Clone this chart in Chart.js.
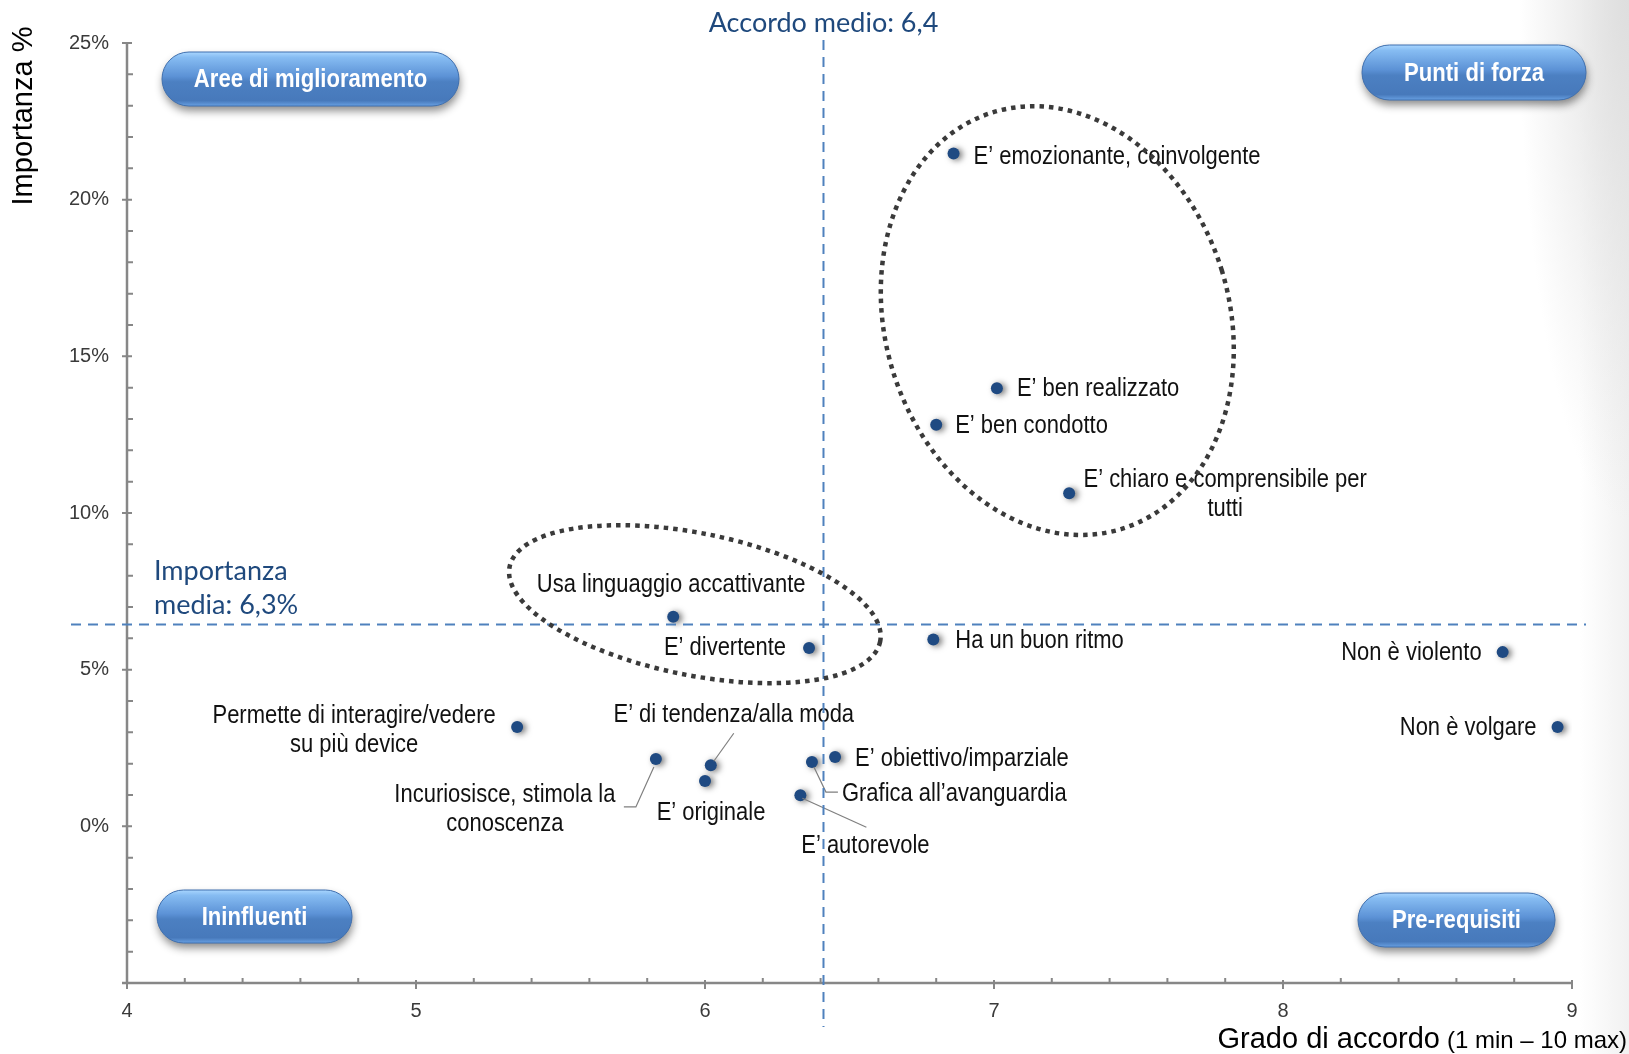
<!DOCTYPE html>
<html lang="it">
<head>
<meta charset="utf-8">
<title>Importanza vs grado di accordo</title>
<script src="https://cdn.jsdelivr.net/npm/chart.js@4.4.1/dist/chart.umd.min.js"></script>
<style>
    html, body { margin: 0; padding: 0; }
    body {
        width: 1629px;
        height: 1054px;
        overflow: hidden;
        background:
            radial-gradient(ellipse 110px 520px at 100% 0%, #dedede 0%, rgba(255,255,255,0) 100%),
            linear-gradient(to right, #ffffff 0%, #ffffff 97%, #f1f1f1 100%);
    }
    #wrap { position: relative; width: 1629px; height: 1054px; }
</style>
</head>
<body>
<div id="wrap"><canvas id="mappa" width="1629" height="1054"></canvas></div>
<script>
// dati
const attributi = [
    "E’ emozionante, coinvolgente",
    "E’ ben realizzato",
    "E’ ben condotto",
    "E’ chiaro e comprensibile per\ntutti",
    "Usa linguaggio accattivante",
    "E’ divertente",
    "Ha un buon ritmo",
    "Non è violento",
    "Non è volgare",
    "Permette di interagire/vedere\nsu più device",
    "Incuriosisce, stimola la\nconoscenza",
    "E’ di tendenza/alla moda",
    "E’ originale",
    "E’ obiettivo/imparziale",
    "Grafica all’avanguardia",
    "E’ autorevole",
];
const grado_accordo = [6.86, 7.01, 6.80, 7.26, 5.89, 6.36, 6.79, 8.76, 8.95, 5.35, 5.83, 6.02, 6.00, 6.45, 6.37, 6.33];
const importanza = [21.47, 13.98, 12.82, 10.63, 6.69, 5.69, 5.96, 5.56, 3.17, 3.17, 2.15, 1.95, 1.45, 2.21, 2.05, 0.99];

const tick_x = [4, 5, 6, 7, 8, 9];
const tick_y = [0, 5, 10, 15, 20, 25];

const media_accordo = 6.41;
const media_importanza = 6.44;
const testo_media_accordo = "Accordo medio: 6,4";
const testo_media_importanza = ["Importanza", "media: 6,3%"];
const quadranti = ["Aree di miglioramento", "Punti di forza", "Ininfluenti", "Pre-requisiti"];

// stile: posizione etichette rispetto al punto (px)
const posizione_etichette = [
    { dx: 20, dy: 3, align: "left" },
    { dx: 20, dy: 1, align: "left" },
    { dx: 19, dy: 1, align: "left" },
    { dx: 156, dy: -13, align: "center" },
    { dx: -2, dy: -32, align: "center" },
    { dx: -23, dy: 0, align: "right" },
    { dx: 22, dy: 1, align: "left" },
    { dx: -21, dy: 1, align: "right" },
    { dx: -21, dy: 1, align: "right" },
    { dx: -163, dy: -11, align: "center" },
    { dx: -151, dy: 36, align: "center", leader: [[-32, 48], [-20, 48], [-2, 8]] },
    { dx: 23, dy: -50, align: "center", leader: [[23, -32], [3, -4]] },
    { dx: 6, dy: 32, align: "center" },
    { dx: 20, dy: 2, align: "left" },
    { dx: 30, dy: 32, align: "left", leader: [[2, 5], [14, 30], [26, 30]] },
    { dx: 65, dy: 51, align: "center", leader: [[2, 3], [66, 32]] },
];

const ellissi = [
    { x: 7.219, y: 16.14, rx: 172, ry: 218, rot: -0.3 },
    { x: 5.965, y: 7.09, rx: 189, ry: 71, rot: 0.199 },
];

const pillole = [
    { x: 162, y: 52, w: 297, h: 54 },
    { x: 1362, y: 45, w: 224, h: 55 },
    { x: 157, y: 890, w: 195, h: 53 },
    { x: 1358, y: 893, w: 197, h: 54 },
];

const FONT = "'Liberation Sans', Arial, sans-serif";
Chart.defaults.font.family = FONT;

const testo_stretto = (ctx, testo, x, y, align, scala) => {
    ctx.save();
    ctx.translate(x, y);
    ctx.scale(scala, 1);
    ctx.textAlign = align;
    ctx.fillText(testo, 0, 0);
    ctx.restore();
};

const pillola = (ctx, p, testo) => {
    const r = p.h / 2;
    const percorso = () => {
        ctx.beginPath();
        ctx.moveTo(p.x + r, p.y);
        ctx.lineTo(p.x + p.w - r, p.y);
        ctx.arc(p.x + p.w - r, p.y + r, r, -Math.PI / 2, Math.PI / 2);
        ctx.lineTo(p.x + r, p.y + p.h);
        ctx.arc(p.x + r, p.y + r, r, Math.PI / 2, Math.PI * 1.5);
        ctx.closePath();
    };
    ctx.save();
    percorso();
    ctx.shadowColor = "rgba(0,0,0,0.45)";
    ctx.shadowBlur = 9;
    ctx.shadowOffsetX = 1;
    ctx.shadowOffsetY = 5;
    const g = ctx.createLinearGradient(0, p.y, 0, p.y + p.h);
    g.addColorStop(0, "#a9d6ff");
    g.addColorStop(0.1, "#86bcf2");
    g.addColorStop(0.45, "#5c92d6");
    g.addColorStop(0.55, "#4c80c2");
    g.addColorStop(0.9, "#4779bb");
    g.addColorStop(1, "#68a0e2");
    ctx.fillStyle = g;
    ctx.fill();
    ctx.restore();
    ctx.save();
    percorso();
    ctx.strokeStyle = "#3f6fae";
    ctx.lineWidth = 1;
    ctx.stroke();
    ctx.fillStyle = "#ffffff";
    ctx.font = "bold 26px " + FONT;
    ctx.textBaseline = "middle";
    testo_stretto(ctx, testo, p.x + p.w / 2, p.y + p.h / 2 + 1, "center", 0.85);
    ctx.restore();
};

const decorazioni = {
    id: "decorazioni",
    beforeDatasetsDraw(chart) {
        const { ctx, scales: { x: sx, y: sy } } = chart;
        const x0 = sx.getPixelForValue(4);
        const y0 = sy.getPixelForValue(-5);
        ctx.save();
        ctx.strokeStyle = "#878787";
        ctx.lineWidth = 2.5;
        ctx.beginPath();
        ctx.moveTo(x0, sy.getPixelForValue(25));
        ctx.lineTo(x0, y0);
        ctx.moveTo(x0 - 5, y0);
        ctx.lineTo(sx.getPixelForValue(9), y0);
        ctx.stroke();

        ctx.lineWidth = 2;
        ctx.beginPath();
        for (let v = -5; v <= 25; v++) {
            const py = sy.getPixelForValue(v);
            if (v % 5 === 0) { ctx.moveTo(x0 - 5, py); ctx.lineTo(x0 + 5, py); }
            else { ctx.moveTo(x0, py); ctx.lineTo(x0 + 6, py); }
        }
        for (let k = 0; k <= 25; k++) {
            const px = sx.getPixelForValue(4 + k * 0.2);
            if (k % 5 === 0) { ctx.moveTo(px, y0 - 3); ctx.lineTo(px, y0 + 6); }
            else { ctx.moveTo(px, y0 - 5); ctx.lineTo(px, y0); }
        }
        ctx.stroke();
        ctx.restore();

        // titoli assi
        ctx.save();
        ctx.fillStyle = "#000";
        ctx.font = "29px " + FONT;
        ctx.textBaseline = "middle";
        ctx.textAlign = "center";
        ctx.translate(24, 116);
        ctx.rotate(-Math.PI / 2);
        ctx.fillText("Importanza %", 0, 0);
        ctx.restore();

        ctx.save();
        ctx.fillStyle = "#000";
        ctx.textBaseline = "alphabetic";
        ctx.textAlign = "right";
        ctx.font = "24px " + FONT;
        const parentesi = "(1 min – 10 max)";
        const w = ctx.measureText(parentesi).width;
        ctx.fillText(parentesi, 1627, 1048);
        ctx.font = "29px " + FONT;
        ctx.fillText("Grado di accordo", 1627 - w - 7, 1048);
        ctx.restore();

        // ombra dei punti
        ctx.save();
        ctx.shadowColor = "rgba(0,0,0,0.55)";
        ctx.shadowBlur = 6;
        ctx.shadowOffsetX = 3;
        ctx.shadowOffsetY = 1;
    },
    afterDatasetsDraw(chart) {
        const { ctx, chartArea, scales: { x: sx, y: sy } } = chart;
        ctx.restore();

        // etichette dei punti
        ctx.save();
        ctx.fillStyle = "#111";
        ctx.font = "26px " + FONT;
        ctx.textBaseline = "middle";
        attributi.forEach((nome, i) => {
            const px = sx.getPixelForValue(grado_accordo[i]);
            const py = sy.getPixelForValue(importanza[i]);
            const pos = posizione_etichette[i];
            nome.split("\n").forEach((riga, r) => {
                testo_stretto(ctx, riga, px + pos.dx, py + pos.dy + r * 29, pos.align, 0.845);
            });
            if (pos.leader) {
                ctx.save();
                ctx.strokeStyle = "#7f7f7f";
                ctx.lineWidth = 1.2;
                ctx.beginPath();
                pos.leader.forEach(([lx, ly], k) => {
                    if (k === 0) ctx.moveTo(px + lx, py + ly);
                    else ctx.lineTo(px + lx, py + ly);
                });
                ctx.stroke();
                ctx.restore();
            }
        });
        ctx.restore();

        // linee medie
        const mx = sx.getPixelForValue(media_accordo);
        const my = sy.getPixelForValue(media_importanza);
        ctx.save();
        ctx.strokeStyle = "#4f81bd";
        ctx.lineWidth = 2;
        ctx.setLineDash([10, 7]);
        ctx.beginPath();
        ctx.moveTo(mx, chartArea.top - 3);
        ctx.lineTo(mx, chartArea.bottom + 44);
        ctx.moveTo(chartArea.left - 56, my);
        ctx.lineTo(chartArea.right + 14, my);
        ctx.stroke();
        ctx.restore();

        ctx.save();
        ctx.fillStyle = "#1f497d";
        ctx.font = "27px Lato, 'Open Sans', sans-serif";
        ctx.textBaseline = "middle";
        ctx.textAlign = "center";
        ctx.fillText(testo_media_accordo, mx, 23);
        ctx.textAlign = "left";
        ctx.fillText(testo_media_importanza[0], 154, my - 53);
        ctx.fillText(testo_media_importanza[1], 154, my - 19);
        ctx.restore();

        // ellissi tratteggiate
        ctx.save();
        ctx.strokeStyle = "#3a3a3a";
        ctx.lineWidth = 4.5;
        ctx.setLineDash([4.5, 5]);
        ellissi.forEach((e) => {
            ctx.beginPath();
            ctx.ellipse(sx.getPixelForValue(e.x), sy.getPixelForValue(e.y), e.rx, e.ry, e.rot, 0, Math.PI * 2);
            ctx.stroke();
        });
        ctx.restore();

        // quadranti
        pillole.forEach((p, i) => pillola(ctx, p, quadranti[i]));
    },
};

const ctx = document.getElementById("mappa").getContext("2d");
const grafico = new Chart(ctx, {
    type: "scatter",
    data: {
        datasets: [{
            data: attributi.map((_, i) => ({ x: grado_accordo[i], y: importanza[i] })),
            backgroundColor: "#1f4a82",
            borderWidth: 0,
            pointRadius: 6,
            pointHoverRadius: 6,
        }],
    },
    options: {
        responsive: false,
        animation: false,
        devicePixelRatio: 1,
        events: [],
        layout: { padding: { left: 0, top: 43, right: 57, bottom: 0 } },
        plugins: {
            legend: { display: false },
            tooltip: { enabled: false },
        },
        scales: {
            x: {
                type: "linear",
                min: 4,
                max: 9,
                afterBuildTicks: (s) => { s.ticks = tick_x.map((v) => ({ value: v })); },
                afterFit: (s) => { s.height = 71; },
                grid: { display: false, drawTicks: false },
                border: { display: false },
                ticks: { padding: 16, color: "#3a3a3a", font: { size: 20 } },
            },
            y: {
                type: "linear",
                min: -5,
                max: 25,
                afterBuildTicks: (s) => { s.ticks = tick_y.map((v) => ({ value: v })); },
                afterFit: (s) => { s.width = 127; },
                grid: { display: false, drawTicks: false },
                border: { display: false },
                ticks: { padding: 18, color: "#3a3a3a", font: { size: 20 }, callback: (v) => v + "%" },
            },
        },
    },
    plugins: [decorazioni],
});
</script>
</body>
</html>
